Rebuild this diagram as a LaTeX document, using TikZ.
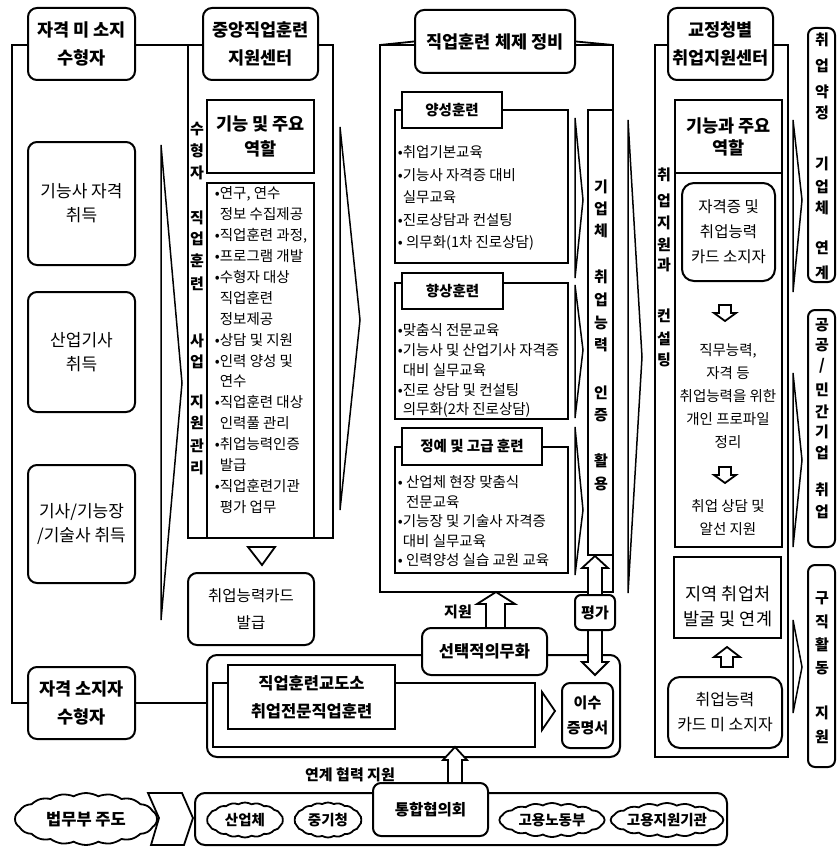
\documentclass[tikz,border=0pt]{standalone}
\usepackage{fontspec}
\setmainfont{Noto Sans CJK KR}
\usetikzlibrary{shapes.geometric,shapes.symbols}
\newcommand\bx[7]{\node[#1, minimum width={#5-#3}, minimum height={#6-#4}] (#2) at ({(#3+#5)/2},{(#4+#6)/2}) {#7};}
\newcommand\fs[2]{\fontsize{#1}{#2}\selectfont}
\begin{document}
\begin{tikzpicture}[x=1pt,y=-1pt,line width=1.8pt,
  rbox/.style={draw, fill=white, rounded corners=9pt, inner sep=0pt, align=center, line width=2pt},
  sbox/.style={draw, fill=white, inner sep=0pt, align=center, line width=2pt},
  ttl/.style={font=\fs{17.5}{28}\bfseries},
  bigt/.style={font=\fs{17}{24}},
  subh/.style={font=\fs{14.5}{17}\bfseries},
  lst/.style={inner sep=0pt, anchor=north west, align=left},
  vt/.style={inner sep=0pt, font=\fs{15}{15}\bfseries},
  lbl/.style={inner sep=0pt, font=\fs{15}{18}\bfseries},
  chev/.style={draw, line width=1.5pt, line join=miter},
  blk/.style={draw, fill=white, line width=1.8pt, line join=miter},
  ell/.style={draw, fill=white, cloud, cloud puffs=18, cloud puff arc=60, cloud ignores aspect, inner sep=0pt, line width=1.8pt, font=\fs{14.5}{17}\bfseries},
  ]
\useasboundingbox (0,0) rectangle (836,848);

% ---------- frames ----------
\draw (188,45) rectangle (333,538);
\draw (380,45) rectangle (613,592);
\draw (655,45) rectangle (788,757);

% ---------- thin chevrons ----------
\draw[chev] (161,145) -- (182,383) -- (161,620) -- cycle;
\draw[chev] (340,127) -- (360,320) -- (340,510) -- cycle;
\draw[chev] (628,120) -- (642,357) -- (628,593) -- cycle;
\draw[chev] (575,118) -- (583,200) -- (575,278) -- cycle;
\draw[chev] (575,285) -- (583,350) -- (575,418) -- cycle;
\draw[chev] (575,427) -- (583,510) -- (575,575) -- cycle;
\draw[chev] (793,120) -- (802,200) -- (793,292) -- cycle;
\draw[chev] (793,373) -- (802,460) -- (793,547) -- cycle;
\draw[chev] (793,620) -- (802,667) -- (793,713) -- cycle;

% ---------- column 1 ----------
\bx{rbox,bigt}{q1}{28}{142}{135}{265}{기능사 자격\\취득}
\bx{rbox,bigt}{q2}{28}{292}{135}{412}{산업기사\\취득}
\bx{rbox,bigt}{q3}{28}{465}{135}{583}{기사/기능장\\/기술사 취득}

% ---------- bottom big box (col 2-3) ----------
\bx{rbox,rounded corners=10pt}{bigb}{207}{655}{620}{757}{}
\bx{rbox,ttl}{q4}{28}{667}{135}{739}{자격 소지자\\수형자}
\draw (81,45) -- (188,45);
\draw (81,45) -- (12,45) |- (q4.west);
\draw (q4.east) -- (q4.east -| bigb.west);
\bx{rbox,ttl}{t1}{28}{8}{135}{80}{자격 미 소지\\수형자}

\bx{sbox}{inr}{213}{683}{535}{747}{}
\bx{sbox,font=\fs{16.5}{28}\bfseries}{jhk}{228}{665}{395}{729}{직업훈련교도소\\취업전문직업훈련}
\draw[blk] (542,692) -- (555,711) -- (542,730) -- cycle;
\bx{rbox,rounded corners=8pt,font=\fs{15}{25}\bfseries}{isu}{562}{683}{613}{748}{이수\\증명서}

% ---------- column 2 ----------
\bx{rbox,ttl}{t2}{203}{8}{318}{80}{중앙직업훈련\\지원센터}
\bx{sbox,font=\fs{17.5}{25}\bfseries}{g2h}{207}{100}{314}{173}{기능 및 주요\\역할}
\bx{sbox}{g2c}{207}{183}{314}{538}{}
\node[lst,font=\fs{14.5}{20.9}] (l2) at (214,186) {•연구, 연수\\
\phantom{•}정보 수집제공\\
•직업훈련 과정,\\
•프로그램 개발\\
•수형자 대상\\
\phantom{•}직업훈련\\
\phantom{•}정보제공\\
•상담 및 지원\\
•인력 양성 및\\
\phantom{•}연수\\
•직업훈련 대상\\
\phantom{•}인력풀 관리\\
•취업능력인증\\
\phantom{•}발급\\
•직업훈련기관\\
\phantom{•}평가 업무};
\foreach \c/\y [count=\i] in {수/129,형/151,자/173,직/218,업/239,훈/261,련/284,사/341,업/362,지/402,원/423,관/446,리/468}
  \node[vt] (va\i) at (197,\y) {\c};
\draw[blk] (248,547) -- (275,547) -- (262,565) -- cycle;
\bx{rbox,font=\fs{15.5}{27}}{card2}{188}{573}{314}{645}{취업능력카드\\발급}

% ---------- column 3 ----------
\bx{rbox,font=\fs{17.5}{20}\bfseries}{t3}{415}{10}{575}{73}{직업훈련 체제 정비}
\draw (380,45) -- (t3.west);
\draw (t3.east) -- (613,45);
\bx{sbox}{ys}{395}{110}{568}{263}{}
\bx{sbox,subh}{ysh}{402}{92}{502}{128}{양성훈련}
\node[lst,font=\fs{14.5}{22.5}] (l3a) at (397,145) {•취업기본교육\\
•기능사 자격증 대비\\
\phantom{•}실무교육\\
•진로상담과 컨설팅\\
• 의무화(1차 진로상담)};
\bx{sbox}{hs}{395}{283}{568}{419}{}
\bx{sbox,subh}{hsh}{402}{273}{503}{309}{향상훈련}
\node[lst,font=\fs{14.5}{19.7}] (l3b) at (397,323) {•맞춤식 전문교육\\
•기능사 및 산업기사 자격증\\
\phantom{•}대비 실무교육\\
•진로 상담 및 컨설팅\\
\phantom{•}의무화(2차 진로상담)};
\bx{sbox}{jy}{395}{447}{568}{573}{}
\bx{sbox,subh}{jyh}{402}{428}{542}{465}{정예 및 고급 훈련}
\node[lst,font=\fs{14.5}{19.5}] (l3c) at (397,475) {• 산업체 현장 맞춤식\\
\phantom{• }전문교육\\
•기능장 및 기술사 자격증\\
\phantom{•}대비 실무교육\\
• 인력양성 실습 교원 교육};
\bx{sbox}{gu}{588}{110}{613}{555}{}
\foreach \c/\y [count=\i] in {기/187,업/209,체/231,취/277,업/300,능/323,력/345,인/393,증/415,활/461,용/484}
  \node[vt] (vb\i) at (601,\y) {\c};

% arrows below column 3
\draw[blk] (496,592) -- (515,604) -- (505,604) -- (505,629) -- (486,629) -- (486,604) -- (477,604) -- cycle;
\node[lbl] (jw) at (458,612) {지원};
\draw[blk] (595,556) -- (608,568) -- (602,568) -- (602,662) -- (608,662) -- (595,675) -- (582,662) -- (588,662) -- (588,568) -- (582,568) -- cycle;
\bx{rbox,rounded corners=6pt,font=\fs{15}{18}\bfseries}{pg}{575}{595}{615}{630}{평가}
\bx{rbox,font=\fs{16.5}{20}\bfseries}{sel}{422}{628}{547}{675}{선택적의무화}

% ---------- column 4 ----------
\bx{rbox,ttl}{t4}{668}{8}{773}{80}{교정청별\\취업지원센터}
\bx{sbox,font=\fs{17.5}{22}\bfseries}{g4h}{675}{100}{782}{173}{기능과 주요\\역할}
\bx{sbox}{g4c}{675}{173}{782}{547}{}
\bx{rbox,rounded corners=12pt,font=\fs{15.5}{25}}{card}{682}{183}{775}{281}{자격증 및\\취업능력\\카드 소지자}
\draw[blk] (719,305) -- (731,305) -- (731,313) -- (736,313) -- (725,321) -- (714,313) -- (719,313) -- cycle;
\node[inner sep=0pt,align=center,font=\fs{14.5}{23}] (pro) at (728,396) {직무능력,\\자격 등\\취업능력을 위한\\개인 프로파일\\정리};
\draw[blk] (719,467) -- (731,467) -- (731,475) -- (736,475) -- (725,483) -- (714,475) -- (719,475) -- cycle;
\node[inner sep=0pt,align=center,font=\fs{14.5}{23}] (als) at (728,518) {취업 상담 및\\알선 지원};
\bx{sbox}{jy4}{674}{557}{781}{638}{}
\node[inner sep=0pt,align=center,font=\fs{17.5}{25}] (jy4t) at (728,606) {지역 취업처\\발굴 및 연계};
\draw[blk] (727,647) -- (740,657) -- (733,657) -- (733,667) -- (721,667) -- (721,657) -- (714,657) -- cycle;
\bx{rbox,rounded corners=12pt,font=\fs{16}{25}}{mi}{668}{677}{782}{748}{취업능력\\카드 미 소지자}
\foreach \c/\y [count=\i] in {취/175,업/201,지/223,원/245,과/265,컨/316,설/339,팅/360}
  \node[vt] (vc\i) at (664,\y) {\c};

% ---------- right column ----------
\bx{rbox,rounded corners=7pt}{r1}{808}{28}{835}{282}{}
\bx{rbox,rounded corners=7pt}{r2}{808}{310}{835}{547}{}
\bx{rbox,rounded corners=7pt}{r3}{808}{565}{835}{767}{}
\foreach \c/\y [count=\i] in {취/40,업/66,약/92,정/113,기/164,업/187,체/208,연/248,계/273,공/325,공/345,민/390,간/412,기/432,업/453,취/490,업/512,구/598,직/622,활/645,동/668,지/713,원/737}
  \node[vt] (vr\i) at (822,\y) {\c};
\node[vt] (vrs) at (822,366) {/};

% ---------- bottom row ----------
\bx{rbox,rounded corners=10pt}{bot}{195}{793}{727}{845}{}
\draw[blk] (148,793) -- (182,793) -- (193,818) -- (184,845) -- (151,845) -- (159,818) -- cycle;
\node[ell,minimum width=142,minimum height=52,font=\fs{16.5}{20}\bfseries] (moj) at (86,819) {법무부 주도};
\node[ell,minimum width=76,minimum height=35] (e1) at (245,820) {산업체};
\node[ell,minimum width=67,minimum height=35] (e2) at (328,820) {중기청};
\node[ell,minimum width=105,minimum height=34] (e3) at (552,820) {고용노동부};
\node[ell,minimum width=109,minimum height=34] (e4) at (667,820) {고용지원기관};
\draw[blk] (455,747) -- (467,760) -- (462,760) -- (462,784) -- (448,784) -- (448,760) -- (443,760) -- cycle;
\bx{rbox,rounded corners=8pt,font=\fs{15.5}{20}\bfseries}{th}{373}{783}{488}{836}{통합협의회}
\node[lbl] (lk) at (350,775) {연계 협력 지원};
\end{tikzpicture}
\end{document}
